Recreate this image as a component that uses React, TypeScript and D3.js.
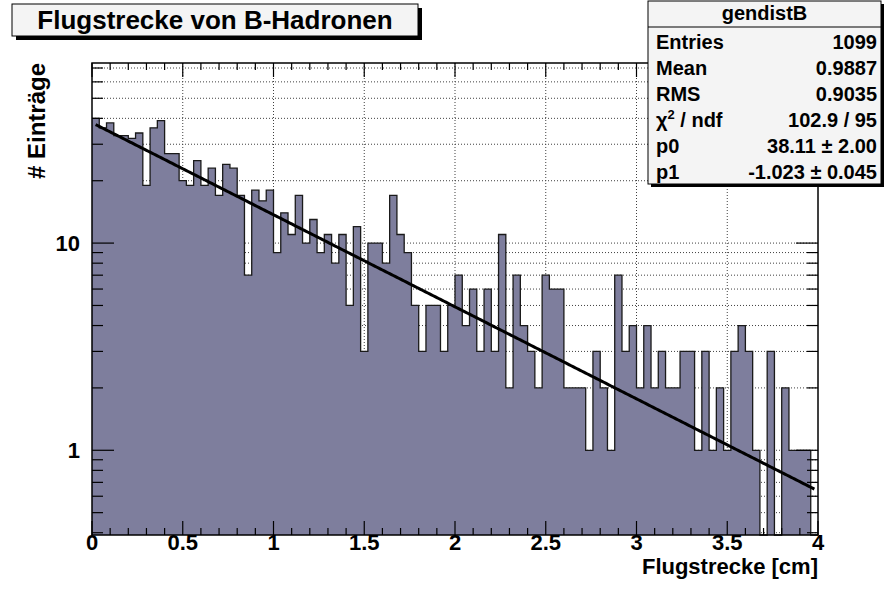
import React from "react";
import * as d3 from "d3";

// Histogram "gendistB": flight distance of B hadrons, 100 bins from 0 to 4 cm
const binLow = 0;
const binHigh = 4;
const binCounts = [
  40, 36, 38, 33, 33, 32, 34, 19, 36, 39,
  27, 27, 20, 19, 25, 19, 23, 17, 24, 23,
  17, 7, 18, 16, 18, 9, 14, 11, 17, 10,
  13, 9, 11, 8, 11, 5, 12, 3, 10, 10,
  8, 17, 11, 9, 5, 3, 5, 5, 3, 5,
  7, 4, 6, 3, 6, 3, 11, 2, 7, 4,
  3, 2, 7, 6, 6, 2, 2, 2, 1, 3,
  2, 1, 7, 3, 4, 2, 4, 2, 3, 2,
  2, 3, 3, 1, 3, 1, 2, 1, 3, 4,
  3, 1, 0, 3, 0, 2, 1, 1, 1, 0,
];

// Exponential fit: p0 * exp(p1 * x)
const fitParams = [38.11, -1.023];

const xTickLabels = ["0", "0.5", "1", "1.5", "2", "2.5", "3", "3.5", "4"];
const yTickLabels = ["1", "10"];

const statsTitle = "gendistB";
const statLabels = ["Entries", "Mean", "RMS", "chi2", "p0", "p1"];
const statValues = ["1099", "0.9887", "0.9035", "102.9 / 95", "38.11 \u00b1 2.00", "-1.023 \u00b1 0.045"];

const titleText = "Flugstrecke von B-Hadronen";
const xTitle = "Flugstrecke [cm]";
const yTitle = "# Einträge";

const W = 884;
const H = 604;
const frame = { left: 92, right: 818, top: 63, bottom: 535 };
const FONT = "'Liberation Sans', Arial, Helvetica, sans-serif";
const FILL = "#7e7e9d";

export default function App() {
  const x = d3.scaleLinear().domain([binLow, binHigh]).range([frame.left, frame.right]);
  const y = d3.scaleLog().domain([0.39, 74]).range([frame.bottom, frame.top]);
  const [yMin, yMax] = y.domain();

  const nBins = binCounts.length;
  const bw = (binHigh - binLow) / nBins;
  const pts = binCounts.map((c, i) => ({ e: binLow + i * bw, c }));
  pts.push({ e: binHigh, c: binCounts[nBins - 1] });
  const yOf = (c: number) => (c > 0 ? y(Math.max(c, yMin)) : frame.bottom);

  const area = d3
    .area<{ e: number; c: number }>()
    .curve(d3.curveStepAfter)
    .x((d) => x(d.e))
    .y0(frame.bottom)
    .y1((d) => yOf(d.c));
  const outline = d3
    .line<{ e: number; c: number }>()
    .curve(d3.curveStepAfter)
    .x((d) => x(d.e))
    .y((d) => yOf(d.c));

  const fitX = d3.range(binLow + bw / 2, binHigh - bw / 2 + 1e-9, 0.01);
  const fitLine = d3
    .line<number>()
    .x((v) => x(v))
    .y((v) => y(fitParams[0] * Math.exp(fitParams[1] * v)));

  // log-axis ticks: 1..9 in each decade
  const yTicks: { v: number; major: boolean }[] = [];
  [0.1, 1, 10].forEach((dec) => {
    for (let k = 1; k <= 9; k++) {
      const v = k * dec;
      if (v >= yMin && v <= yMax) yTicks.push({ v, major: k === 1 });
    }
  });
  const xMajor = d3.range(0, 4.0001, 0.5);
  const xMinor = d3.range(0, 4.0001, 0.1).filter((v) => Math.abs(v * 2 - Math.round(v * 2)) > 1e-6);

  const xTickMaj = 14;
  const xTickMin = 7;
  const yTickMaj = 22;
  const yTickMin = 11;

  const statBox = { x: 648, y: 1, w: 233, h: 183 };

  return (
    <svg width={W} height={H} style={{ display: "block", position: "absolute", left: 0, top: 0 }} fontFamily={FONT}>
      <rect x={0} y={0} width={W} height={H} fill="#ffffff" />

      {/* grid */}
      <g stroke="#000" strokeWidth={1} strokeDasharray="1 2" opacity={0.75}>
        {xMajor
          .filter((v) => v > 0 && v < 4)
          .map((v) => (
            <line key={"gx" + v} x1={x(v)} x2={x(v)} y1={frame.top} y2={frame.bottom} />
          ))}
        {yTicks.map((t) => (
          <line key={"gy" + t.v} x1={frame.left} x2={frame.right} y1={y(t.v)} y2={y(t.v)} />
        ))}
      </g>

      {/* histogram */}
      <path d={area(pts) ?? ""} fill={FILL} />
      <path d={outline(pts) ?? ""} fill="none" stroke="#1a1a1a" strokeWidth={1.3} />

      {/* fit */}
      <path d={fitLine(fitX) ?? ""} fill="none" stroke="#000" strokeWidth={3} />

      {/* frame */}
      <rect
        x={frame.left}
        y={frame.top}
        width={frame.right - frame.left}
        height={frame.bottom - frame.top}
        fill="none"
        stroke="#000"
        strokeWidth={1.5}
      />

      {/* ticks on all four sides */}
      <g stroke="#000" strokeWidth={1.2}>
        {xMajor.map((v) => (
          <g key={"xt" + v}>
            <line x1={x(v)} x2={x(v)} y1={frame.bottom} y2={frame.bottom - xTickMaj} />
            <line x1={x(v)} x2={x(v)} y1={frame.top} y2={frame.top + xTickMaj} />
          </g>
        ))}
        {xMinor.map((v) => (
          <g key={"xm" + v}>
            <line x1={x(v)} x2={x(v)} y1={frame.bottom} y2={frame.bottom - xTickMin} />
            <line x1={x(v)} x2={x(v)} y1={frame.top} y2={frame.top + xTickMin} />
          </g>
        ))}
        {yTicks.map((t) => (
          <g key={"yt" + t.v}>
            <line x1={frame.left} x2={frame.left + (t.major ? yTickMaj : yTickMin)} y1={y(t.v)} y2={y(t.v)} />
            <line x1={frame.right} x2={frame.right - (t.major ? yTickMaj : yTickMin)} y1={y(t.v)} y2={y(t.v)} />
          </g>
        ))}
      </g>

      {/* tick labels */}
      <g fontSize={22} fontWeight="bold" fill="#000">
        {xTickLabels.map((s) => (
          <text key={"xl" + s} x={x(+s)} y={frame.bottom + 15} textAnchor="middle">
            {s}
          </text>
        ))}
        {yTickLabels.map((s) => (
          <text key={"yl" + s} x={frame.left - 12} y={y(+s) + 8} textAnchor="end">
            {s}
          </text>
        ))}
      </g>

      {/* axis titles */}
      <text x={frame.right} y={frame.bottom + 39} textAnchor="end" fontSize={22} fontWeight="bold">
        {xTitle}
      </text>
      <text
        transform={`translate(45, ${frame.top}) rotate(-90)`}
        textAnchor="end"
        fontSize={24}
        fontWeight="bold"
      >
        {yTitle}
      </text>

      {/* title box */}
      <rect x={16} y={8} width={406} height={32} fill="#000" />
      <rect x={12} y={4} width={406} height={32} fill="#f4f4f4" stroke="#000" strokeWidth={1} />
      <text x={215} y={29} textAnchor="middle" fontSize={26} fontWeight="bold">
        {titleText}
      </text>

      {/* stats box */}
      <rect x={statBox.x + 3} y={statBox.y + 3} width={statBox.w} height={statBox.h} fill="#000" />
      <rect x={statBox.x} y={statBox.y} width={statBox.w} height={statBox.h} fill="#f4f4f4" stroke="#000" strokeWidth={1} />
      <line x1={statBox.x} x2={statBox.x + statBox.w} y1={27} y2={27} stroke="#000" strokeWidth={1} />
      <text x={statBox.x + statBox.w / 2} y={20} textAnchor="middle" fontSize={20} fontWeight="bold">
        {statsTitle}
      </text>
      <g fontSize={20} fontWeight="bold">
        {statLabels.map((l, i) => (
          <text key={"sl" + l} x={statBox.x + 8} y={49 + i * 26}>
            {l === "chi2" ? (
              <>
                <tspan>χ</tspan>
                <tspan fontSize={13} dy={-8}>
                  2
                </tspan>
                <tspan dy={8}> / ndf</tspan>
              </>
            ) : (
              l
            )}
          </text>
        ))}
        {statValues.map((v, i) => (
          <text key={"sv" + i} x={statBox.x + statBox.w - 4} y={49 + i * 26} textAnchor="end">
            {v}
          </text>
        ))}
      </g>
    </svg>
  );
}
